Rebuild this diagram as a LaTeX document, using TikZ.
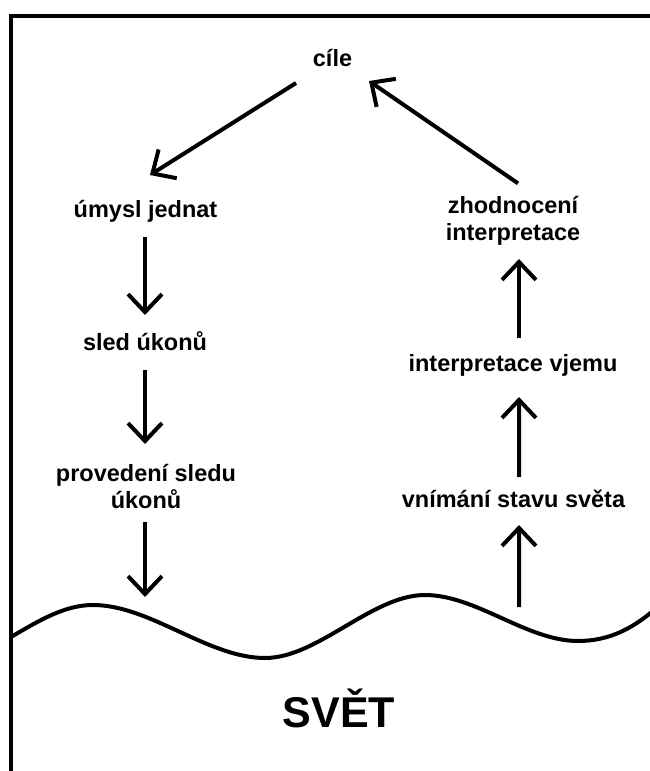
\documentclass[tikz,border=0pt]{standalone}
\usepackage{fontspec}
\setmainfont{Liberation Sans}
\usetikzlibrary{arrows.meta,calc}

\begin{document}
\begin{tikzpicture}[x=0.025cm, y=-0.025cm,
    lbl/.style={inner sep=0, font=\fontsize{16.7}{19.2}\selectfont\bfseries, align=center},
    arr/.style={line width=0.1cm, -{Straight Barb[length=0.45cm, width=0.85cm]}}]
      \useasboundingbox (0,0) rectangle (650,771);
      \draw[line width=0.1125cm] (11,780) -- (11,16) -- (660,16);
      \draw[line width=0.1cm] (11,637) .. controls (40,620) and (65,605) .. (93,605)
        .. controls (150,605) and (208,658) .. (265,658)
        .. controls (318,658) and (372,595) .. (425,595)
        .. controls (476,595) and (527,641) .. (578,641)
        .. controls (610,641) and (635,628) .. (662,603);
      \node[lbl, anchor=base] (cile) at (332.5,66) {cíle};
      \node[lbl, anchor=base] (umysl) at (145.5,217) {úmysl jednat};
      \node[lbl, anchor=base] (sled) at (145,350) {sled úkonů};
      \node[lbl, anchor=south] (provedeni) at (146,509) {provedení sledu\\úkonů};
      \node[lbl, anchor=base] (vnimani) at (513.5,507) {vnímání stavu světa};
      \node[lbl, anchor=base] (interp) at (513,371) {interpretace vjemu};
      \node[lbl, anchor=south] (zhodnoceni) at (513,246) {zhodnocení\\interpretace};
      \node[inner sep=0, anchor=base, font=\fontsize{30.6}{36}\selectfont\bfseries] (svet) at (339,727) {SVĚT};
      \coordinate (inL) at (145,597);
      \coordinate (outR) at (519,607);
      \draw[arr] ($(cile.base)+(-36.5,17)$) -- ($(umysl.base)+(4.5,-42)$);
      \draw[arr] ($(umysl.base)+(-0.5,20)$) -- ($(sled.base)+(0,-35)$);
      \draw[arr] ($(sled.base)+(0,20)$) -- ($(provedeni.north)+(-1,-20)$);
      \draw[arr] ($(provedeni.south)+(-1,13)$) -- (inL);
      \draw[arr] (outR) -- ($(vnimani.base)+(5.5,18)$);
      \draw[arr] ($(vnimani.base)+(5.5,-30)$) -- ($(interp.base)+(6,26)$);
      \draw[arr] ($(interp.base)+(6,-33)$) -- ($(zhodnoceni.south)+(6,13)$);
      \draw[arr] ($(zhodnoceni.north)+(5,-13)$) -- ($(cile.base)+(36.5,15)$);
\end{tikzpicture}
\end{document}
